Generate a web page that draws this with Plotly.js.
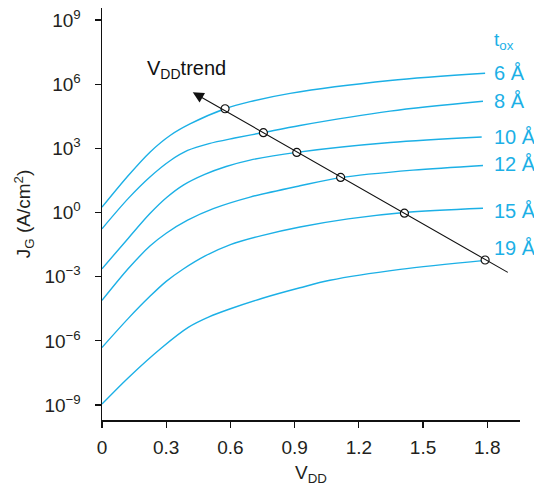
<!DOCTYPE html>
<html>
<head>
<meta charset="utf-8">
<script src="https://cdn.plot.ly/plotly-3.0.1.min.js"></script>
<style>html,body{margin:0;padding:0;background:#fff;}#chart{width:534px;height:486px;}</style>
</head>
<body>
<div id="chart"></div>
<script>
// Oxide thicknesses (labels) and gate-current curves: V_DD (V) and log10(J_G)
var toxLabels = ["6 Å", "8 Å", "10 Å", "12 Å", "15 Å", "19 Å"];

var v6  = [0, 0.123, 0.224, 0.318, 0.411, 0.575, 0.692, 0.879, 1.346, 1.790];
var l6  = [0.25, 1.73, 2.82, 3.60, 4.14, 4.85, 5.18, 5.57, 6.17, 6.51];

var v8  = [0, 0.123, 0.224, 0.318, 0.400, 0.500, 0.620, 0.754, 0.925, 1.346, 1.780];
var l8  = [-0.76, 0.66, 1.66, 2.42, 2.90, 3.22, 3.48, 3.74, 4.07, 4.74, 5.20];

var v10 = [0, 0.123, 0.224, 0.302, 0.380, 0.480, 0.580, 0.692, 0.910, 1.346, 1.774];
var l10 = [-2.63, -1.20, -0.05, 0.70, 1.28, 1.78, 2.15, 2.45, 2.81, 3.27, 3.53];

var v12 = [0, 0.123, 0.224, 0.300, 0.400, 0.520, 0.692, 0.925, 1.115, 1.453, 1.780];
var l12 = [-4.11, -2.62, -1.57, -0.97, -0.36, 0.18, 0.72, 1.25, 1.63, 1.98, 2.20];

var v15 = [0, 0.123, 0.224, 0.300, 0.380, 0.480, 0.600, 0.746, 0.925, 1.150, 1.413, 1.780];
var l15 = [-6.31, -4.95, -3.92, -3.22, -2.64, -2.04, -1.50, -1.08, -0.68, -0.30, 0.00, 0.20];

var v19 = [0, 0.123, 0.279, 0.403, 0.500, 0.600, 0.746, 0.925, 1.065, 1.393, 1.790];
var l19 = [-8.95, -7.72, -6.32, -5.37, -4.88, -4.50, -4.02, -3.52, -3.17, -2.66, -2.24];

// operating points on the V_DD trend
var trendV = [0.575, 0.754, 0.910, 1.115, 1.413, 1.790];
var trendL = [4.85, 3.73, 2.81, 1.64, -0.03, -2.22];
// trend arrow: tail (low-right) and head (up-left)
var arrowV = [1.903, 0.424];
var arrowL = [-2.84, 5.62];

// label anchors (log10 J_G) for the t_ox labels
var labelL = [6.54, 5.23, 3.55, 2.29, 0.05, -1.64];

var yTickVals = [-9, -6, -3, 0, 3, 6, 9];
var yTickText = ["10<sup>−9</sup>", "10<sup>−6</sup>", "10<sup>−3</sup>", "10<sup>0</sup>", "10<sup>3</sup>", "10<sup>6</sup>", "10<sup>9</sup>"];
var xTickVals = [0, 0.3, 0.6, 0.9, 1.2, 1.5, 1.8];
var xTickText = ["0", "0.3", "0.6", "0.9", "1.2", "1.5", "1.8"];

var cyan = "#1cb0e6";
var pw = function (a) { return a.map(function (v) { return Math.pow(10, v); }); };

var curves = [[v6, l6], [v8, l8], [v10, l10], [v12, l12], [v15, l15], [v19, l19]];
var traces = curves.map(function (c, i) {
  return {
    x: c[0], y: pw(c[1]), mode: "lines", type: "scatter", name: toxLabels[i],
    line: {color: cyan, width: 1.4, shape: "spline", smoothing: 0.9},
    hoverinfo: "skip", showlegend: false, cliponaxis: false
  };
});
traces.push({
  x: trendV, y: pw(trendL), mode: "markers", type: "scatter", showlegend: false,
  marker: {symbol: "circle", size: 8, color: "#ffffff", line: {color: "#111111", width: 1.2}},
  hoverinfo: "skip", cliponaxis: false
});

var font = "Liberation Sans, Arial, sans-serif";
var annotations = [{
  x: arrowV[1], y: arrowL[1], ax: arrowV[0], ay: arrowL[0],
  xref: "x", yref: "y", axref: "x", ayref: "y",
  showarrow: true, arrowhead: 2, arrowsize: 2, arrowwidth: 1.1, arrowcolor: "#111111",
  text: "", standoff: 0, startstandoff: 0
}, {
  x: 0.2, y: 6.68, xref: "x", yref: "y", xanchor: "left", yanchor: "middle",
  text: "V<sub>DD</sub>trend", showarrow: false, font: {family: font, size: 20, color: "#111111"}
}, {
  x: 1.82, y: 8.04, xref: "x", yref: "y", xanchor: "left", yanchor: "middle",
  text: "t<sub>ox</sub>", showarrow: false, font: {family: font, size: 19, color: cyan}
}];
toxLabels.forEach(function (t, i) {
  annotations.push({
    x: 1.822, y: labelL[i], xref: "x", yref: "y", xanchor: "left", yanchor: "middle",
    text: t, showarrow: false, font: {family: font, size: 20, color: cyan}
  });
});

var layout = {
  width: 534, height: 486,
  margin: {l: 102, r: 14, t: 8, b: 66, pad: 0},
  paper_bgcolor: "#ffffff", plot_bgcolor: "#ffffff",
  font: {family: font, size: 19, color: "#231f20"},
  showlegend: false,
  xaxis: {
    range: [0, 1.953], tickvals: xTickVals, ticktext: xTickText,
    showgrid: false, zeroline: false, showline: true, linecolor: "#111111", linewidth: 1.5,
    ticks: "outside", ticklen: 6, tickwidth: 1.2, tickcolor: "#111111", ticklabelstandoff: 4,
    tickfont: {family: font, size: 19, color: "#231f20"},
    title: {text: "V<sub>DD</sub>", font: {family: font, size: 19, color: "#231f20"}, standoff: 8}
  },
  yaxis: {
    type: "log", range: [-9.70, 9.56], tickvals: pw(yTickVals), ticktext: yTickText,
    showgrid: false, zeroline: false, showline: true, linecolor: "#111111", linewidth: 1.5,
    ticks: "outside", ticklen: 6, tickwidth: 1.2, tickcolor: "#111111", ticklabelstandoff: 10,
    tickfont: {family: font, size: 19, color: "#231f20"},
    title: {text: "J<sub>G</sub> (A/cm<sup>2</sup>)", font: {family: font, size: 19, color: "#231f20"}, standoff: 8}
  },
  annotations: annotations
};

Plotly.newPlot("chart", traces, layout, {displayModeBar: false, staticPlot: true});
</script>
</body>
</html>
